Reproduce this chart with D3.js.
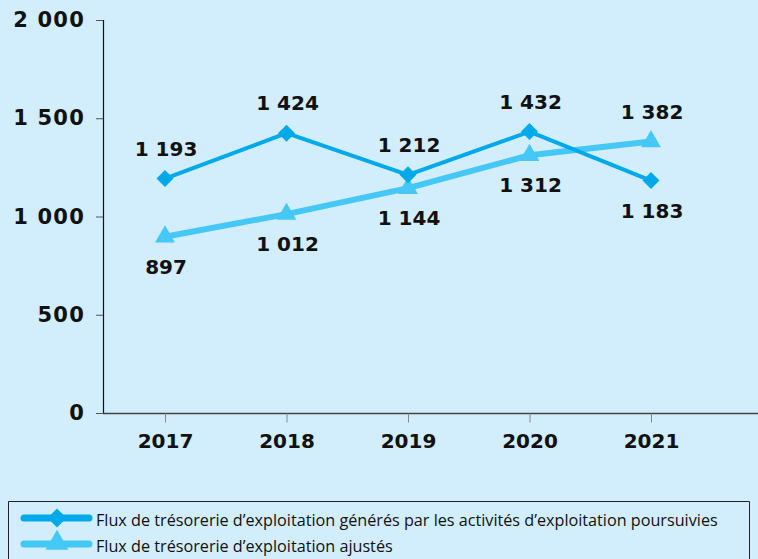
<!DOCTYPE html>
<html>
<head>
<meta charset="utf-8">
<script src="https://cdn.jsdelivr.net/npm/d3@7"></script>
<style>
html,body{margin:0;padding:0;background:#d2edfc;}
svg{display:block;}
</style>
</head>
<body>
<svg id="chart" width="758" height="559"></svg>
<script>
const years = ["2017","2018","2019","2020","2021"];
const fluxGeneres = [1193, 1424, 1212, 1432, 1183];
const fluxAjustes = [897, 1012, 1144, 1312, 1382];
const yTicks = [0, 500, 1000, 1500, 2000];
const legendLabels = [
  "Flux de trésorerie d’exploitation générés par les activités d’exploitation poursuivies",
  "Flux de trésorerie d’exploitation ajustés"
];
// label placement: -1 above, 1 below
const posGeneres = [-1, -1, -1, -1, 1];
const posAjustes = [1, 1, 1, 1, -1];

const c1 = "#00aaea", c2 = "#45c8f6";
const svg = d3.select("#chart");
svg.append("rect").attr("width",758).attr("height",559).attr("fill","#d2edfc");

const x = d3.scalePoint().domain(years).range([165, 651]);
const y = d3.scaleLinear().domain([0, 2000]).range([413, 20]);
const fmt = v => d3.format(",")(v).replace(/,/g, " ");
const numFont = "'DejaVu Sans', sans-serif";

// Y axis
const yAxis = svg.append("g").attr("transform","translate(103,0)")
  .call(d3.axisLeft(y).tickValues(yTicks).tickSize(7).tickPadding(11).tickFormat(fmt));
yAxis.select(".domain").attr("stroke","#111").attr("stroke-width",1.2);
yAxis.selectAll(".tick line").attr("stroke","#555");
yAxis.selectAll("text").attr("font-family",numFont).attr("font-weight","bold")
  .attr("font-size",21).attr("fill","#111").attr("letter-spacing","1.2px");

// X axis
const xAxis = svg.append("g").attr("transform","translate(0,413.5)")
  .call(d3.axisBottom(x).tickSize(9).tickPadding(11).tickSizeOuter(0));
xAxis.select(".domain").attr("d","M103,0H758").attr("stroke","#444").attr("stroke-width",1.5);
xAxis.selectAll(".tick line").attr("stroke","#888");
xAxis.selectAll("text").attr("font-family",numFont).attr("font-weight","bold")
  .attr("font-size",20).attr("fill","#111");

const line = d3.line().x((d,i)=>x(years[i])).y(d=>y(d));

// series 2 (ajustés)
svg.append("path").datum(fluxAjustes).attr("d",line).attr("fill","none")
  .attr("stroke",c2).attr("stroke-width",6);
// series 1
svg.append("path").datum(fluxGeneres).attr("d",line).attr("fill","none")
  .attr("stroke",c1).attr("stroke-width",4);

const tri = d3.symbol().type(d3.symbolTriangle).size(170);
svg.selectAll(".tri").data(fluxAjustes).join("path")
  .attr("d",tri).attr("fill",c2)
  .attr("transform",(d,i)=>`translate(${x(years[i])},${y(d)})`);
const dia = (s)=>`M0,${-s}L${s},0L0,${s}L${-s},0Z`;
svg.selectAll(".dia").data(fluxGeneres).join("path")
  .attr("d",dia(8.5)).attr("fill",c1)
  .attr("transform",(d,i)=>`translate(${x(years[i])},${y(d)})`);

function labels(data, pos){
  svg.selectAll(null).data(data).join("text")
    .attr("x",(d,i)=>x(years[i])+1)
    .attr("y",(d,i)=>y(d)+pos[i]*30)
    .attr("dy","0.36em")
    .attr("text-anchor","middle")
    .attr("font-family",numFont).attr("font-weight","bold").attr("font-size",20)
    .attr("fill","#111")
    .text(d=>fmt(d));
}
labels(fluxGeneres, posGeneres);
labels(fluxAjustes, posAjustes);

// Legend
svg.append("path").attr("d","M8.5,559V501.5H749.5V559")
  .attr("fill","none").attr("stroke","#222").attr("stroke-width",1);
const leg = [{c:c1,t:"dia"},{c:c2,t:"tri"}];
leg.forEach((l,i)=>{
  const yy = 518 + i*26;
  svg.append("line").attr("x1",24).attr("x2",89).attr("y1",yy).attr("y2",yy)
    .attr("stroke",l.c).attr("stroke-width",7).attr("stroke-linecap","round");
  if(l.t==="dia"){
    svg.append("path").attr("d",dia(9.5)).attr("fill",l.c).attr("transform",`translate(57,${yy})`);
  } else {
    svg.append("path").attr("d",d3.symbol().type(d3.symbolTriangle).size(230)).attr("fill",l.c)
      .attr("transform",`translate(57,${yy-1})`);
  }
  svg.append("text").attr("x",96).attr("y",yy+8)
    .attr("font-family","'Open Sans', sans-serif").attr("font-size",16.2).attr("fill","#111")
    .text(legendLabels[i]);
});
</script>
</body>
</html>
